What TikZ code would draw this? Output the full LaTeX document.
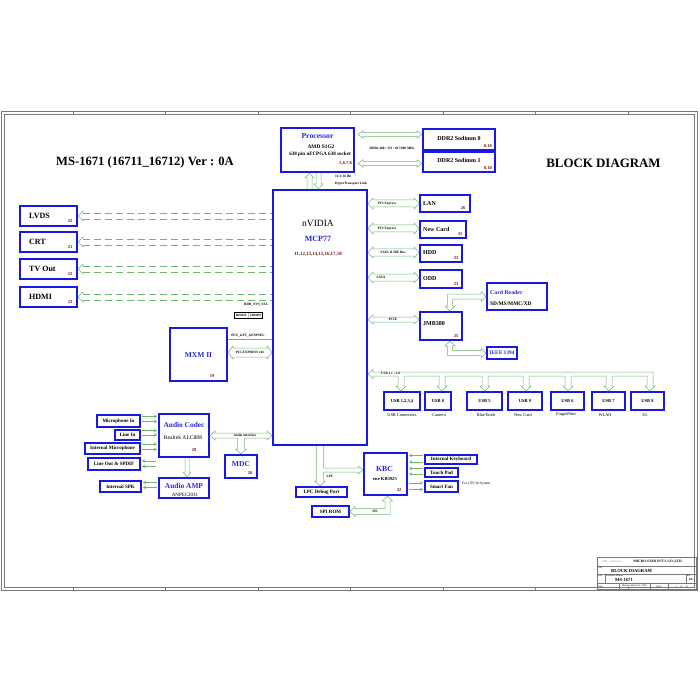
\documentclass[tikz,border=0pt]{standalone}
\usepackage{fontspec}
\setmainfont{Liberation Serif}
\usetikzlibrary{calc,fit,arrows.meta}
\definecolor{bblue}{RGB}{25,25,230}
\definecolor{cgreen}{RGB}{115,180,115}
\definecolor{pgn}{RGB}{110,20,20}
\definecolor{tblue}{RGB}{40,40,215}
\definecolor{frm}{RGB}{120,120,120}
\newcommand\fs[1]{\fontsize{#1}{#1}\selectfont}
\tikzset{
 box/.style={draw=bblue, line width=2pt, fill=white, inner sep=0pt},
 conn/.style={draw=cgreen, line width=0.5pt},
 dsh/.style={draw=cgreen, line width=0.5pt, dash pattern=on 7pt off 4pt},
 tarrow/.style={draw=cgreen, line width=0.45pt, shorten >=1pt, shorten <=1pt, -{Stealth[length=3pt,width=3.5pt]}},
 frame/.style={draw=frm, line width=0.6pt},
 lb/.style={inner sep=0pt, font={\bfseries\fs{8}}},
 lm/.style={inner sep=0pt, font={\bfseries\fs{6}}},
 ls/.style={inner sep=0pt, font={\bfseries\fs{5}}},
 lu/.style={inner sep=0pt, font={\bfseries\fs{4.5}}},
 ucap/.style={inner sep=0pt, font={\fs{4.3}}},
 bt/.style={inner sep=0pt, text=tblue, font={\bfseries\fs{7.6}}},
 pg/.style={inner sep=0pt, text=pgn, font={\bfseries\fs{4.5}}},
 cl/.style={inner sep=0.4pt, fill=white, font={\bfseries\fs{3.4}}},
 tl/.style={inner sep=0pt, font={\bfseries\fs{3.4}}},
 tb/.style={draw=frm, line width=0.4pt},
}
\newcommand\bx[5]{\node[box, fit={(#2,#3) (#4,#5)}] (#1) {};}
\newcommand\HB[3][3]{\draw[conn] let \p1=(#2),\p2=(#3) in (\x1,\y1) -- (\x1+5pt,\y1+#1pt+2pt) -- (\x1+5pt,\y1+#1pt) -- (\x2-5pt,\y1+#1pt) -- (\x2-5pt,\y1+#1pt+2pt) -- (\x2,\y1) -- (\x2-5pt,\y1-#1pt-2pt) -- (\x2-5pt,\y1-#1pt) -- (\x1+5pt,\y1-#1pt) -- (\x1+5pt,\y1-#1pt-2pt) -- cycle;}
\newcommand\HR[3][3]{\draw[conn] let \p1=(#2),\p2=(#3) in (\x1,\y1+#1pt) -- (\x2-5pt,\y1+#1pt) -- (\x2-5pt,\y1+#1pt+2pt) -- (\x2,\y1) -- (\x2-5pt,\y1-#1pt-2pt) -- (\x2-5pt,\y1-#1pt) -- (\x1,\y1-#1pt);}
\newcommand\VD[3][3]{\draw[conn] let \p1=(#2),\p2=(#3) in (\x1+#1pt,\y1) -- (\x1+#1pt,\y2+5pt) -- (\x1+#1pt+2pt,\y2+5pt) -- (\x1,\y2) -- (\x1-#1pt-2pt,\y2+5pt) -- (\x1-#1pt,\y2+5pt) -- (\x1-#1pt,\y1);}
\newcommand\VU[3][3]{\draw[conn] let \p1=(#2),\p2=(#3) in (\x1+#1pt,\y2) -- (\x1+#1pt,\y1-5pt) -- (\x1+#1pt+2pt,\y1-5pt) -- (\x1,\y1) -- (\x1-#1pt-2pt,\y1-5pt) -- (\x1-#1pt,\y1-5pt) -- (\x1-#1pt,\y2);}
\newcommand\DL[1]{\draw[conn] let \p1=(#1.east) in (\x1+5pt,\y1+3pt) -- (\x1+5pt,\y1+5pt) -- (\x1,\y1) -- (\x1+5pt,\y1-5pt) -- (\x1+5pt,\y1-3pt);
 \draw[dsh] let \p1=(#1.east), \p2=(nv.west) in (\x1+5pt,\y1+3pt) -- (\x2,\y1+3pt) (\x1+5pt,\y1-3pt) -- (\x2,\y1-3pt);}
\newcommand\UD[2]{\fill[white] ($(#1.north |- busend)+(#2-2.6,1.4)$) rectangle ($(#1.north |- busend)+(#2+2.6,2.6)$);
 \VD[3]{$(#1.north |- busend)+(#2,2)$}{#1.north}}
\begin{document}
\begin{tikzpicture}[x=1pt,y=-1pt]
\useasboundingbox (0,0) rectangle (700,700);
\fill[white] (0,0) rectangle (700,700);
\draw[frame] (1,111) rectangle (697,590);
\draw[frame] (4,114) rectangle (694,587);
\foreach \i in {73,165.5,258,350.5,443,535.5,628}{\draw[frame,line width=0.4pt] (\i,111) -- (\i,114) (\i,587) -- (\i,590);}
\node[inner sep=0pt, font={\bfseries\fs{12.6}}] (title) at (145,162) {MS-1671 (16711\_16712) Ver : 0A};
\node[inner sep=0pt, font={\bfseries\fs{12.9}}] (bdtitle) at (603.5,163) {BLOCK DIAGRAM};

\bx{proc}{281}{128}{354}{172}
\bx{ddra}{423}{129}{495}{150}
\bx{ddrb}{423}{152}{495}{172}
\bx{nv}{273}{190}{367}{445}
\bx{lvds}{20}{206}{77}{226}
\bx{crt}{20}{232}{77}{252}
\bx{tv}{20}{259}{77}{279}
\bx{hdmi}{20}{287}{77}{307}
\bx{mxm}{170}{328}{227}{381}
\bx{lan}{420}{195}{470}{212}
\bx{newc}{420}{221}{466}{238}
\bx{hdd}{420}{245}{462}{262}
\bx{odd}{420}{270}{462}{288}
\bx{cr}{487}{283}{547}{310}
\bx{jmb}{420}{312}{462}{340}
\bx{ieee}{487}{347}{517}{359}
\bx{ua}{384}{392}{420}{410}
\bx{ub}{425}{392}{451}{410}
\bx{uc}{467}{392}{502}{410}
\bx{ud}{508}{392}{542}{410}
\bx{ue}{551}{392}{584}{410}
\bx{uf}{592}{392}{625}{410}
\bx{ug}{631}{392}{664}{410}
\bx{mic}{97}{415}{140}{427}
\bx{linein}{115}{430}{140}{440}
\bx{imic}{85}{443}{140}{454}
\bx{lineout}{88}{458}{140}{470}
\bx{spk}{100}{481}{141}{492}
\bx{codec}{159}{414}{209}{457}
\bx{amp}{159}{478}{209}{498}
\bx{mdc}{225}{455}{257}{478}
\bx{kbc}{364}{453}{407}{495}
\bx{ikb}{425}{455}{477}{464}
\bx{tp}{425}{468}{458}{477}
\bx{fan}{425}{481}{458}{492}
\bx{lpc}{296}{487}{347}{497}
\bx{spi}{312}{506}{349}{517}

\VU[2.5]{$(proc.south)+(-8,0)$}{nv.north}
\VD[2.5]{$(proc.south)+(1,0)$}{nv.north}
\HB[1.8]{$(proc.east |- ddra.west)+(3,-5)$}{ddra.west}
\HB[1.8]{$(proc.east |- ddrb.west)+(3,1.5)$}{ddrb.west}
\DL{lvds}\DL{crt}\DL{tv}\DL{hdmi}
\draw[conn] ($(mxm.east)+(0,-15.5)$) -- ($(mxm.east -| nv.west)+(0,-15.5)$);
\HB[4.5]{$(mxm.east)+(0,-2)$}{nv.west}
\HB[3.5]{nv.east |- lan.west}{lan.west}
\HB[3.5]{$(nv.east |- newc.west)+(0,-1)$}{newc.west}
\HB[3.5]{$(nv.east |- hdd.west)+(0,-1)$}{hdd.west}
\HB[3.5]{$(nv.east |- odd.west)+(0,-1.5)$}{odd.west}
\HB[2.5]{$(nv.east |- jmb.west)+(0,-6.5)$}{jmb.west}
\draw[conn] let \p1=($(jmb.north)+(9,0)$), \p2=(cr.west) in (\x1,\y1) -- (\x1-5pt,\y1+5pt) -- (\x1-2.5pt,\y1+5pt) -- (\x1-2.5pt,\y2+2.5pt) -- (\x2-5pt,\y2+2.5pt) -- (\x2-5pt,\y2+5pt) -- (\x2,\y2) -- (\x2-5pt,\y2-5pt) -- (\x2-5pt,\y2-2.5pt) -- (\x1+2.5pt,\y2-2.5pt) -- (\x1+2.5pt,\y1+5pt) -- (\x1+5pt,\y1+5pt) -- cycle;
\draw[conn] let \p1=($(jmb.south)+(9,0)$), \p2=(ieee.west) in (\x1,\y1) -- (\x1-5pt,\y1-5pt) -- (\x1-2.5pt,\y1-5pt) -- (\x1-2.5pt,\y2-2.5pt) -- (\x2-5pt,\y2-2.5pt) -- (\x2-5pt,\y2-5pt) -- (\x2,\y2) -- (\x2-5pt,\y2+5pt) -- (\x2-5pt,\y2+2.5pt) -- (\x1+2.5pt,\y2+2.5pt) -- (\x1+2.5pt,\y1-5pt) -- (\x1+5pt,\y1-5pt) -- cycle;
\coordinate (busend) at (653,374);
\draw[conn] let \p1=(nv.east |- busend), \p2=(busend) in (\x2,\y1+2pt) -- (\x1+5pt,\y1+2pt) -- (\x1+5pt,\y1+4.5pt) -- (\x1,\y1) -- (\x1+5pt,\y1-4.5pt) -- (\x1+5pt,\y1-2pt) -- (\x2-6pt,\y1-2pt);
\UD{ua}{-1}\UD{ub}{4}\UD{uc}{0.5}\UD{ud}{1}\UD{ue}{0.5}\UD{uf}{0.5}
\draw[conn] let \p1=(busend), \p2=(ug.north) in (\x1,\y1+2pt) -- (\x1,\y2+5pt) -- (\x1+2pt,\y2+5pt) -- (\x1-3pt,\y2) -- (\x1-8pt,\y2+5pt) -- (\x1-6pt,\y2+5pt) -- (\x1-6pt,\y1-2pt);
\foreach \b/\d in {mic/-4.5, mic/0.5, linein/-4.5, linein/0, imic/-4.5, imic/1}{
 \draw[tarrow] ($(\b.east)+(0,\d)$) -- ($(\b.east -| codec.west)+(0,\d)$);}
\foreach \b/\d in {lineout/-3, lineout/2.5}{
 \draw[tarrow] ($(\b.east -| codec.west)+(-1,\d)$) -- ($(\b.east)+(0,\d)$);}
\foreach \b/\d in {spk/-4, spk/1}{
 \draw[tarrow] ($(\b.east -| amp.west)+(0,\d)$) -- ($(\b.east)+(0,\d)$);}
\VD[2]{$(codec.south)+(3,0)$}{amp.north}
\HB[2.5]{codec.east}{nv.west |- codec.east}
\fill[white] ($(mdc.north |- codec.east)+(-3.1,2)$) rectangle ($(mdc.north |- codec.east)+(3.1,3)$);
\VD[3.5]{$(mdc.north |- codec.east)+(0,2.5)$}{mdc.north}
\VD[3.5]{nv.south}{lpc.north}
\fill[white] ($(nv.south |- kbc.west)+(3,-5.7)$) rectangle ($(nv.south |- kbc.west)+(4,-2.3)$);
\HR[2]{$(nv.south |- kbc.west)+(3.5,-4)$}{kbc.west}
\draw[conn] let \p1=(spi.east), \p2=($(kbc.south)+(2,0)$) in (\x1,\y1) -- (\x1+5pt,\y1+5pt) -- (\x1+5pt,\y1+3pt) -- (\x2-2.5pt,\y1+3pt) -- (\x2-2.5pt,\y2-5pt) -- (\x2-5pt,\y2-5pt) -- (\x2,\y2) -- (\x2+5pt,\y2-5pt) -- (\x2+2.5pt,\y2-5pt) -- (\x2+2.5pt,\y1-3pt) -- (\x1+5pt,\y1-3pt) -- (\x1+5pt,\y1-5pt) -- cycle;
\foreach \b/\d in {ikb/-4, ikb/2.5, tp/-4, tp/1.5}{
 \draw[tarrow] ($(\b.west)+(0,\d)$) -- ($(\b.west -| kbc.east)+(0,\d)$);}
\foreach \b/\d in {fan/-3.5, fan/3}{
 \draw[tarrow] ($(\b.west -| kbc.east)+(0,\d)$) -- ($(\b.west)+(0,\d)$);}

\node[inner sep=0pt, text=tblue, font={\bfseries\fs{7.7}}] (tproc) at (317.5,136) {Processor};
\node[inner sep=0pt, font={\bfseries\fs{5.4}}] (tamd) at (321,146.5) {AMD S1G2};
\node[inner sep=0pt, font={\bfseries\fs{5.1}}] (tsock) at (320,154) {638 pin uFCPGA 638 socket};
\node[pg, anchor=east] (pproc) at (352,163) {5,6,7,8};
\node[lm] (tddra) at (459,138) {DDR2 Sodimm 0};
\node[pg, anchor=east] (pddra) at (492,146.5) {8,10};
\node[lm] (tddrb) at (459,160) {DDR2 Sodimm 1};
\node[pg, anchor=east] (pddrb) at (492,168.5) {8,10};
\node[tl] (tddrbus) at (392,148) {DDR2 400 / 533 / 667/800 MHz};
\node[tl, anchor=west] (tht1) at (335,176) {16 X 16 Bit};
\node[tl, anchor=west] (tht2) at (335,184) {HyperTransport Link};

\node[inner sep=0pt, font={\fs{9.5}}] (tnv) at (318,223) {nVIDIA};
\node[inner sep=0pt, text=tblue, font={\bfseries\fs{8}}] (tmcp) at (318,239) {MCP77};
\node[inner sep=0pt, text=pgn, font={\bfseries\fs{4.9}}] (pnv) at (318,254) {11,12,13,14,15,16,17,18};

\node[lb, anchor=west] (tlvds) at (29,215.5) {LVDS};
\node[pg] (plvds) at (70,221) {22};
\node[lb, anchor=west] (tcrt) at (29,241.5) {CRT};
\node[pg] (pcrt) at (70,247) {21};
\node[lb, anchor=west] (ttv) at (29,268.5) {TV Out};
\node[pg] (ptv) at (70,274) {22};
\node[lb, anchor=west] (thdmi) at (29,296.5) {HDMI};
\node[pg] (phdmi) at (70,302) {23};

\node[tl] (tsel) at (256,305) {HDR\_NVS\_SEL};
\node[draw=black, line width=0.3pt, inner sep=0.6pt, font={\bfseries\fs{3.2}}, minimum width=28pt] (tselbox) at (248.5,315.5) {HDMI\# $\vert$ HDMI\#};
\node[tl, anchor=south] (tpeg) at (248,337.5) {PEX\_GPU\_GENPSEL};
\node[cl] (tpcie16) at (250,352.5) {PCI-EXPRESS x16};
\node[inner sep=0pt, text=tblue, font={\bfseries\fs{7.5}}] (tmxm) at (198.5,355) {MXM II};
\node[pg] (pmxm) at (212,376) {19};

\node[cl] (tpci1) at (387,203.5) {PCI Express};
\node[cl] (tpci2) at (387,228.5) {PCI Express};
\node[cl] (tsata1) at (393,252.5) {SATA II IDE Bus};
\node[cl] (tsata2) at (381,277.5) {SATA};
\node[cl] (tpcie) at (393,319.5) {PCIE};
\node[lm, anchor=west] (tlan) at (423,203.5) {LAN};
\node[pg] (plan) at (463,208) {26};
\node[lm, anchor=west] (tnewc) at (423,229.5) {New Card};
\node[pg] (pnewc) at (460,234) {31};
\node[lm, anchor=west] (thdd) at (423,253) {HDD};
\node[pg] (phdd) at (456,258.5) {23};
\node[lm, anchor=west] (todd) at (423,279) {ODD};
\node[pg] (podd) at (456,284) {23};
\node[inner sep=0pt, text=tblue, font={\bfseries\fs{5.8}}, anchor=west] (tcr) at (490,293) {Card Reader};
\node[inner sep=0pt, font={\bfseries\fs{5.4}}, anchor=west] (tcr2) at (490,304) {SD/MS/MMC/XD};
\node[lm, anchor=west] (tjmb) at (423,324) {JMB380};
\node[pg] (pjmb) at (456,336) {25};
\node[inner sep=0pt, text=tblue, font={\bfseries\fs{5.4}}] (tieee) at (502,353) {IEEE 1394};

\node[cl] (tusbbus) at (390.5,373.5) {USB 1.1 / 2.0};
\node[lu] (tua) at (ua) {USB 1,2,3,4};
\node[lu] (tub) at (ub) {USB 0};
\node[lu] (tuc) at (uc) {USB 5};
\node[lu] (tud) at (ud) {USB 9};
\node[lu] (tue) at (ue) {USB 6};
\node[lu] (tuf) at (uf) {USB 7};
\node[lu] (tug) at (ug) {USB 8};
\node[ucap] (cua) at (402,415) {USB Connectors};
\node[ucap] (cub) at (439,415) {Camera};
\node[ucap] (cuc) at (486,415) {BlueTooth};
\node[ucap] (cud) at (523,415) {New Card};
\node[ucap] (cue) at (566,415) {FingerPrint};
\node[ucap] (cuf) at (605,415) {WLAN};
\node[ucap] (cug) at (645,415) {3G};

\node[ls] (tmic) at (mic) {Microphone In};
\node[ls] (tlinein) at (linein) {Line In};
\node[ls] (timic) at (imic) {Internal Microphone};
\node[ls] (tlineout) at (lineout) {Line Out \& SPDIF};
\node[ls] (tspk) at (spk) {Internal SPK};
\node[inner sep=0pt, text=tblue, font={\bfseries\fs{7.4}}] (tcodec) at (184,425) {Audio Codec};
\node[inner sep=0pt, font={\fs{5.6}}] (tcodec2) at (183,438) {Realtek ALC888};
\node[pg] (pcodec) at (194,450) {29};
\node[inner sep=0pt, text=tblue, font={\bfseries\fs{7.4}}] (tamp) at (184,486) {Audio AMP};
\node[inner sep=0pt, font={\fs{5}}] (tamp2) at (185,494.5) {ANPEC2031};
\node[cl] (taudio) at (245,435.5) {Audio Interface};
\node[inner sep=0pt, text=tblue, font={\bfseries\fs{7.6}}] (tmdc) at (241,464) {MDC};
\node[pg] (pmdc) at (250,473) {26};

\node[inner sep=0pt, text=tblue, font={\bfseries\fs{7.8}}] (tkbc) at (384.5,469) {KBC};
\node[inner sep=0pt, font={\bfseries\fs{4.6}}] (tkbc2) at (385,479) {ene KB3925};
\node[pg] (pkbc) at (399,490) {32};
\node[ls] (tikb) at (ikb) {Internal Keyboard};
\node[ls] (ttp) at (tp) {Touch Pad};
\node[ls] (tfan) at (fan) {Smart Fan};
\node[inner sep=0pt, font={\fs{3.6}}, anchor=west] (tfor) at (462,483.5) {For CPU \& System};
\node[ls] (tlpc) at (lpc) {LPC Debug Port};
\node[ls] (tspi) at (spi) {SPI ROM};
\node[tl] (tlpcl) at (330,476) {LPC};
\node[cl] (tspil) at (375,511.5) {SPI};

\draw[tb] (597,557) rectangle (696,589);
\draw[tb] (597,566) -- (696,566);
\draw[tb] (597,574.5) -- (696,574.5);
\draw[tb] (597,583.5) -- (696,583.5);
\draw[tb] (605,574.5) -- (605,583.5);
\draw[tb] (686,574.5) -- (686,583.5);
\draw[tb] (619,583.5) -- (619,589) (650,583.5) -- (650,589) (668,583.5) -- (668,589);
\node[inner sep=0pt, text=frm, font={\fs{2.6}}] (tbmsi) at (612,561.5) {MSI \quad micro-star};
\node[inner sep=0pt, font={\bfseries\fs{3.5}}] (tbco) at (658,561.5) {MICRO-STAR INT'L CO.,LTD.};
\node[inner sep=0pt, font={\fs{2.2}}, anchor=north west] (tbtl) at (598,566.7) {Title};
\node[inner sep=0pt, font={\bfseries\fs{4.6}}, anchor=west] (tbbd) at (611,571) {BLOCK DIAGRAM};
\node[inner sep=0pt, font={\fs{2.2}}, anchor=north west] (tbsz) at (598,575.2) {Size};
\node[inner sep=0pt, font={\fs{2.2}}, anchor=north west] (tbdn) at (606,575.2) {Document Number};
\node[inner sep=0pt, font={\bfseries\fs{4.6}}, anchor=west] (tbms) at (615,580) {MS-1671};
\node[inner sep=0pt, font={\fs{2.2}}, anchor=north west] (tbrev) at (687,575.2) {Rev};
\node[inner sep=0pt, font={\bfseries\fs{3}}] (tbrv) at (691,580) {0A};
\node[inner sep=0pt, font={\fs{2.4}}, anchor=west] (tbdate) at (598,586.3) {Date:};
\node[inner sep=0pt, font={\fs{2.4}}] (tbday) at (634,586.3) {Monday, March 03, 2008};
\node[inner sep=0pt, font={\fs{2.4}}] (tbsheet) at (659,586.3) {Sheet};
\node[inner sep=0pt, font={\fs{2.4}}] (tbof) at (682,586.3) {1 \quad of \quad 33};
\end{tikzpicture}
\end{document}
